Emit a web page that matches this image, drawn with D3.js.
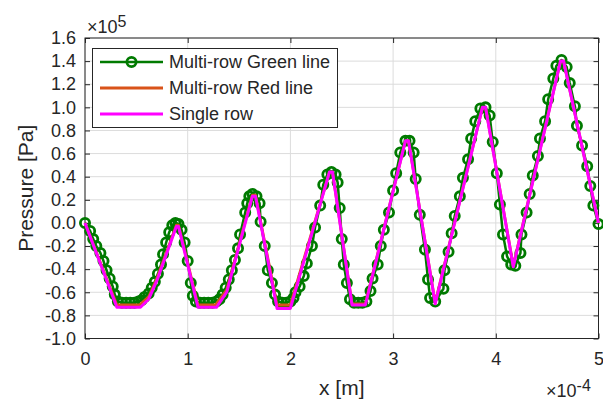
<!DOCTYPE html>
<html>
<head>
<meta charset="utf-8">
<script src="https://cdn.jsdelivr.net/npm/d3@7"></script>
<style>
  html, body { margin: 0; padding: 0; background: #fff; }
  svg { display: block; }
  text { font-family: "Liberation Sans", Arial, Helvetica, sans-serif; fill: #262626; }
</style>
</head>
<body>
<svg id="chart" width="603" height="402"></svg>
<script>
// ---- Data (x in 1e-4 m, pressure in 1e5 Pa) ----
const greenX = [0,0.05,0.08,0.11,0.15,0.18,0.21,0.24,0.27,0.29,0.32,
  0.36,0.40,0.44,0.48,0.52,
  0.55,0.58,0.62,0.65,0.68,0.71,0.74,0.76,0.79,0.82,0.85,0.88,0.91,
  0.94,0.97,1.00,1.03,1.05,1.08,
  1.12,1.16,1.20,1.24,1.28,
  1.31,1.34,1.37,1.40,1.43,1.46,1.49,1.51,1.56,1.58,1.60,1.63,1.67,1.70,
  1.71,1.75,1.78,1.82,1.85,1.88,
  1.92,1.96,2.00,
  2.03,2.05,2.09,2.13,2.16,2.21,2.24,2.29,2.32,2.36,2.40,2.44,
  2.46,2.48,2.50,2.52,2.55,2.58,
  2.62,2.66,2.70,2.74,
  2.78,2.80,2.85,2.88,2.91,2.96,3.00,3.03,3.07,3.12,3.16,3.20,
  3.22,3.26,3.31,3.34,3.36,3.41,
  3.49,3.50,3.54,3.57,3.60,3.65,3.68,3.73,3.76,3.80,3.85,3.90,3.94,
  3.97,4.01,4.04,4.07,4.11,4.15,4.19,
  4.24,4.25,4.30,4.33,4.36,4.41,4.43,4.48,4.51,4.56,4.59,4.64,4.69,
  4.72,4.77,4.79,4.84,4.89,4.92,4.95,5.00];
const greenY = [0,-0.07,-0.14,-0.20,-0.26,-0.33,-0.41,-0.48,-0.55,-0.62,-0.68,
  -0.69,-0.69,-0.69,-0.69,-0.68,
  -0.67,-0.64,-0.61,-0.56,-0.51,-0.44,-0.36,-0.27,-0.17,-0.08,-0.02,0.00,-0.01,
  -0.06,-0.17,-0.33,-0.52,-0.63,-0.68,
  -0.69,-0.69,-0.69,-0.69,-0.68,
  -0.66,-0.62,-0.56,-0.49,-0.41,-0.32,-0.22,-0.10,0.09,0.17,0.23,0.25,0.23,0.17,
  0.01,-0.20,-0.41,-0.52,-0.62,-0.68,
  -0.69,-0.69,-0.68,
  -0.65,-0.60,-0.55,-0.46,-0.35,-0.20,-0.04,0.15,0.33,0.42,0.44,0.42,
  0.35,0.13,-0.14,-0.36,-0.52,-0.66,
  -0.69,-0.69,-0.69,-0.68,
  -0.59,-0.48,-0.36,-0.20,-0.06,0.09,0.28,0.43,0.61,0.71,0.71,0.61,
  0.38,0.07,-0.23,-0.49,-0.65,-0.68,
  -0.57,-0.41,-0.25,-0.09,0.06,0.23,0.39,0.55,0.73,0.88,0.99,1.00,0.93,
  0.70,0.43,0.16,-0.10,-0.29,-0.36,-0.37,
  -0.26,-0.10,0.09,0.25,0.41,0.58,0.73,0.88,1.07,1.25,1.36,1.41,1.35,
  1.21,1.01,0.84,0.67,0.49,0.32,0.15,-0.01];

const redX = [0,0.31,0.53,0.62,0.70,0.89,0.91,1.10,1.27,1.38,1.63,1.66,1.87,2.00,2.38,2.41,2.60,2.73,3.12,3.15,3.41,3.87,3.90,4.17,4.63,4.66,5.0];
const redY = [0,-0.71,-0.71,-0.64,-0.48,-0.02,-0.02,-0.71,-0.71,-0.58,0.24,0.24,-0.71,-0.71,0.44,0.44,-0.70,-0.70,0.71,0.71,-0.69,1.00,1.00,-0.37,1.40,1.40,0.0];

const singleX = [0,0.31,0.54,0.62,0.70,0.89,0.91,1.10,1.28,1.38,1.63,1.66,1.87,2.00,2.38,2.41,2.60,2.73,3.12,3.15,3.41,3.87,3.90,4.17,4.63,4.66,5.0];
const singleY = [0,-0.73,-0.73,-0.66,-0.50,-0.03,-0.03,-0.73,-0.73,-0.60,0.23,0.23,-0.74,-0.74,0.44,0.44,-0.71,-0.71,0.71,0.71,-0.70,1.00,1.00,-0.38,1.40,1.40,0.0];

const xTicks = [0,1,2,3,4,5];
const xTickLabels = ["0","1","2","3","4","5"];
const yTicks = [1.6,1.4,1.2,1.0,0.8,0.6,0.4,0.2,0.0,-0.2,-0.4,-0.6,-0.8,-1.0];
const yTickLabels = ["1.6","1.4","1.2","1.0","0.8","0.6","0.4","0.2","0.0","-0.2","-0.4","-0.6","-0.8","-1.0"];
const seriesNames = ["Multi-row Green line","Multi-row Red line","Single row"];
const seriesColors = ["#007a00","#d95319","#ff00ff"];

// ---- Layout ----
const svg = d3.select("#chart");
const L = 85, R = 598.5, T = 38, B = 338.5;
const x = d3.scaleLinear().domain([0,5]).range([L,R]);
const y = d3.scaleLinear().domain([-1,1.6]).range([B,T]);
const axisColor = "#262626";

// grid
const g = svg.append("g");
g.selectAll(".gx").data(xTicks).enter().append("line")
  .attr("x1", d=>x(d)).attr("x2", d=>x(d)).attr("y1", T).attr("y2", B)
  .attr("stroke", "#dcdcdc").attr("stroke-width", 1);
g.selectAll(".gy").data(yTicks).enter().append("line")
  .attr("x1", L).attr("x2", R).attr("y1", d=>y(d)).attr("y2", d=>y(d))
  .attr("stroke", "#dcdcdc").attr("stroke-width", 1);

// axes (inward ticks, on all four sides)
const tickLen = 5;
const fmtX = (d) => xTickLabels[xTicks.indexOf(d)];
const fmtY = (d) => yTickLabels[yTicks.indexOf(d)];
function styleAxis(sel) {
  sel.attr("font-size", null).attr("font-family", null);
  sel.select(".domain").remove();
  sel.selectAll("line").attr("stroke", axisColor).attr("stroke-width", 1);
  sel.selectAll("text").attr("fill", axisColor).style("font-size", "18px");
}
svg.append("g").attr("transform", `translate(0,${B})`)
  .call(d3.axisBottom(x).tickValues(xTicks).tickFormat(fmtX).tickSizeInner(-tickLen).tickSizeOuter(0).tickPadding(14))
  .call(styleAxis);
svg.append("g").attr("transform", `translate(0,${T})`)
  .call(d3.axisTop(x).tickValues(xTicks).tickFormat("").tickSizeInner(-tickLen).tickSizeOuter(0))
  .call(styleAxis);
svg.append("g").attr("transform", `translate(${L},0)`)
  .call(d3.axisLeft(y).tickValues(yTicks).tickFormat(fmtY).tickSizeInner(-tickLen).tickSizeOuter(0).tickPadding(9))
  .call(styleAxis);
svg.append("g").attr("transform", `translate(${R},0)`)
  .call(d3.axisRight(y).tickValues(yTicks).tickFormat("").tickSizeInner(-tickLen).tickSizeOuter(0))
  .call(styleAxis);

svg.append("rect").attr("x", L).attr("y", T).attr("width", R-L).attr("height", B-T)
  .attr("fill", "none").attr("stroke", axisColor).attr("stroke-width", 1);

// data lines
const plot = svg.append("g");
const line = d3.line().x(d=>x(d[0])).y(d=>y(d[1]));
const green = greenX.map((v,i)=>[v, greenY[i]]);
const red = redX.map((v,i)=>[v, redY[i]]);
const single = singleX.map((v,i)=>[v, singleY[i]]);

plot.append("path").datum(green).attr("d", line).attr("fill","none")
  .attr("stroke", seriesColors[0]).attr("stroke-width", 2.5).attr("stroke-linejoin","round");
plot.selectAll(".mk").data(green).enter().append("circle")
  .attr("cx", d=>x(d[0])).attr("cy", d=>y(d[1])).attr("r", 4.6)
  .attr("fill","none").attr("stroke", seriesColors[0]).attr("stroke-width", 2.8);
plot.append("path").datum(red).attr("d", line).attr("fill","none")
  .attr("stroke", seriesColors[1]).attr("stroke-width", 2.8).attr("stroke-linejoin","round");
plot.append("path").datum(single).attr("d", line).attr("fill","none")
  .attr("stroke", seriesColors[2]).attr("stroke-width", 3).attr("stroke-linejoin","round");

// axis labels
svg.append("text").attr("x", (L+R)/2).attr("y", 395).attr("text-anchor","middle")
  .style("font-size","21px").text("x [m]");
svg.append("text").attr("transform", `translate(33,${(T+B)/2}) rotate(-90)`).attr("text-anchor","middle")
  .style("font-size","21px").text("Pressure [Pa]");

// exponent labels
const e1 = svg.append("text").attr("x", 87).attr("y", 33).style("font-size","18px");
e1.append("tspan").text("\u00d710");
e1.append("tspan").attr("dy", -6.5).style("font-size","16px").text("5");
const e2 = svg.append("text").attr("x", 546).attr("y", 397).style("font-size","18px");
e2.append("tspan").text("\u00d710");
e2.append("tspan").attr("dy", -6.5).style("font-size","16px").text("-4");

// legend
const lg = svg.append("g");
lg.append("rect").attr("x", 92.5).attr("y", 48.5).attr("width", 245).attr("height", 79)
  .attr("fill","#fff").attr("stroke", axisColor).attr("stroke-width", 1);
const rowsY = [62, 88, 114];
seriesNames.forEach((name, i) => {
  lg.append("line").attr("x1", 100).attr("x2", 163).attr("y1", rowsY[i]).attr("y2", rowsY[i])
    .attr("stroke", seriesColors[i]).attr("stroke-width", i===0 ? 2.5 : 3);
  if (i === 0) {
    lg.append("circle").attr("cx", 131.5).attr("cy", rowsY[i]).attr("r", 4.6)
      .attr("fill","none").attr("stroke", seriesColors[0]).attr("stroke-width", 2.8);
  }
  lg.append("text").attr("x", 169).attr("y", rowsY[i]).attr("dy", "0.35em")
    .style("font-size","18px").text(name);
});
</script>
</body>
</html>
